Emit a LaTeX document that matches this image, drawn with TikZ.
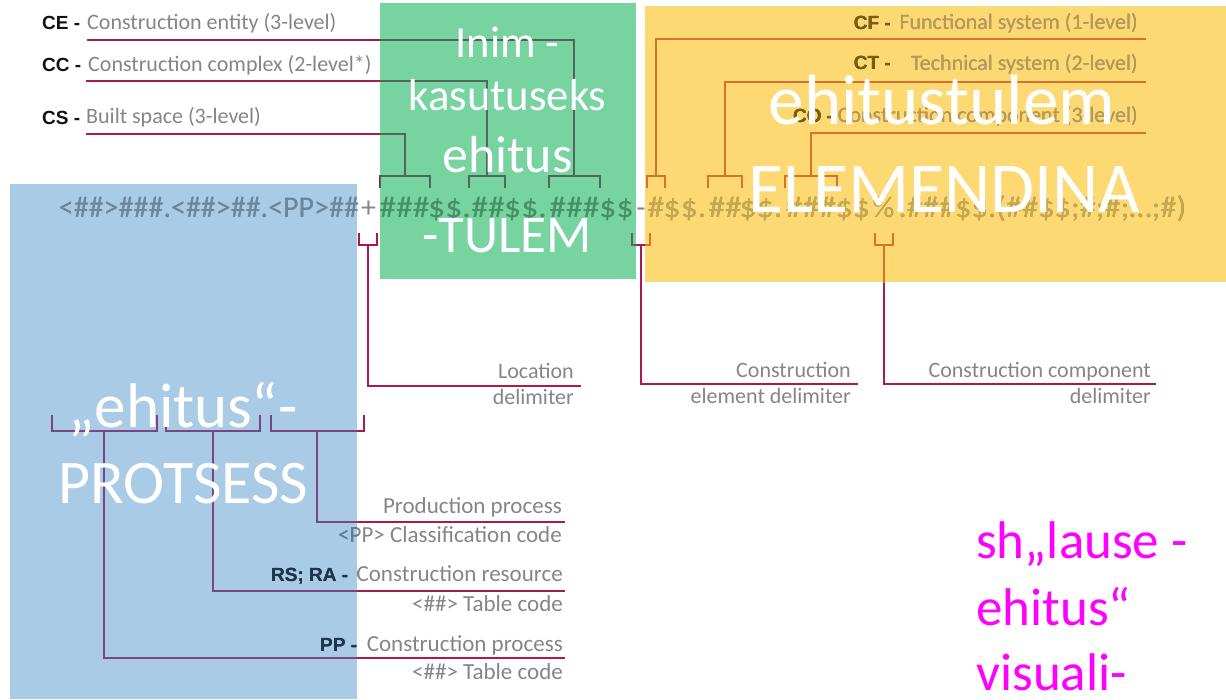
\documentclass[tikz,border=0pt]{standalone}
\usepackage{fontspec}
\setmainfont{Carlito}
\newfontfamily\boldsans{Liberation Sans}
\newcommand\setfs[1]{\fontsize{#1}{#1}\selectfont}
\newcommand\cx[1]{\scalebox{1.12}[1]{#1}}
\definecolor{boxblue}{HTML}{A9CBE6}
\definecolor{boxgreen}{HTML}{77D39F}
\definecolor{boxyellow}{HTML}{FDD974}
\definecolor{crimson}{HTML}{A81A50}
\definecolor{lnblue}{HTML}{7B4584}
\definecolor{lngreen}{HTML}{52675A}
\definecolor{lnyellow}{HTML}{D8722C}
\definecolor{txtgray}{HTML}{858585}
\definecolor{txtblue}{HTML}{5E7A95}
\definecolor{txtyellow}{HTML}{B89A52}
\definecolor{bldblack}{HTML}{111111}
\definecolor{bldblue}{HTML}{1E3551}
\definecolor{bldyellow}{HTML}{7A600C}
\definecolor{codegray}{HTML}{888888}
\definecolor{codeblue}{HTML}{6A87A0}
\definecolor{codegreen}{HTML}{3F9463}
\definecolor{codeyellow}{HTML}{C9A846}
\definecolor{magentatxt}{HTML}{FF00FF}
\colorlet{lncol}{crimson}
\colorlet{txtcol}{txtgray}
\colorlet{bldcol}{bldblack}
\colorlet{codecol}{codegray}
\tikzset{
  lbl/.style={font=\setfs{22}, text=txtcol, inner sep=0pt},
  lbltwo/.style={font=\setfs{23}, text=txtcol, inner sep=0pt},
  bld/.style={font=\boldsans\bfseries\setfs{19}, text=bldcol, inner sep=0pt},
  codetxt/.style={font=\setfs{30}, text=codecol, inner sep=0pt, anchor=base},
  ln/.style={draw=lncol, line width=2.6pt},
  big/.style={text=white, inner sep=0pt, anchor=base},
  mag/.style={text=magentatxt, inner sep=0pt, anchor=base west, font=\setfs{53}},
}
\newcommand\underlayer[4]{%
  \colorlet{lncol}{#1}\colorlet{txtcol}{#2}\colorlet{bldcol}{#3}\colorlet{codecol}{#4}%
  % connectors, top left
  \draw[ln] (ceA) -| (ceM);
  \draw[ln] (ceL) |- (ceM) -| (ceR);
  \draw[ln] (ccA) -| (ccM);
  \draw[ln] (ccL) |- (ccM) -| (ccR);
  \draw[ln] (csA) -| (csM);
  \draw[ln] (csL) |- (csM) -| (csR);
  % connectors, top right
  \draw[ln] (cfA) -| (cfM);
  \draw[ln] (cfL) |- (cfM) -| (cfR);
  \draw[ln] (ctA) -| (ctM);
  \draw[ln] (ctL) |- (ctM) -| (ctR);
  \draw[ln] (coA) -| (coM);
  \draw[ln] (coL) |- (coM) -| (coR);
  % delimiters
  \draw[ln] (locL) |- (locM) -| (locR);
  \draw[ln] (locM) |- (locE);
  \draw[ln] (elL) |- (elM) -| (elR);
  \draw[ln] (elM) |- (elE);
  \draw[ln] (cmL) |- (cmM) -| (cmR);
  \draw[ln] (cmM) |- (cmE);
  % process brackets
  \draw[ln] (pAL) |- (pAM) -| (pAR);
  \draw[ln] (pAM) |- (pAE);
  \draw[ln] (pBL) |- (pBM) -| (pBR);
  \draw[ln] (pBM) |- (pBE);
  \draw[ln] (pCL) |- (pCM) -| (pCR);
  \draw[ln] (pCM) |- (pCE);
  % labels top left
  \node[bld,anchor=base west] (ceK) at (42,29) {CE -};
  \node[lbl,anchor=base west] (ceT) at (87,29) {Construction entity (3-level)};
  \node[bld,anchor=base west] (ccK) at (42,71) {CC -};
  \node[lbl,anchor=base west] (ccT) at (88,71) {Construction complex (2-level*)};
  \node[bld,anchor=base west] (csK) at (42,124) {CS -};
  \node[lbl,anchor=base west] (csT) at (86,123) {Built space (3-level)};
  % labels top right
  \node[bld,anchor=base east] (cfK) at (891,29) {CF -};
  \node[lbl,anchor=base east] (cfT) at (1138,29) {Functional system (1-level)};
  \node[bld,anchor=base east] (ctK) at (891,69) {CT -};
  \node[lbl,anchor=base east] (ctT) at (1138,70) {Technical system (2-level)};
  \node[bld,anchor=base west] (coK) at (793,122) {CO -};
  \node[lbl,anchor=base east] (coT) at (1138,122) {Construction component (3-level)};
  % code string
  \node[codetxt] (c1) at (209,217) {<\#\#>\#\#\#.<\#\#>\#\#.<PP>\#\#};
  \node[codetxt] (c2) at (368.5,217) {+};
  \node[codetxt] (c3) at (404.5,217) {\cx{\#\#\#}};
  \node[codetxt] (c4) at (449.5,217) {\cx{\$\$.}};
  \node[codetxt] (c5) at (488,217) {\cx{\#\#}};
  \node[codetxt] (c6) at (525.5,217) {\cx{\$\$.}};
  \node[codetxt] (c7) at (574.5,217) {\cx{\#\#\#}};
  \node[codetxt] (c8) at (616.5,217) {\cx{\$\$}};
  \node[codetxt] (c9) at (641,217) {-};
  \node[codetxt] (c10) at (656,217) {\cx{\#}};
  \node[codetxt] (c11) at (685,217) {\cx{\$\$.}};
  \node[codetxt] (c12) at (725,217) {\cx{\#\#}};
  \node[codetxt] (c13) at (761,217) {\cx{\$\$.}};
  \node[codetxt] (c14) at (811,217) {\cx{\#\#\#}};
  \node[codetxt] (c15) at (853,217) {\cx{\$\$}};
  \node[codetxt] (c16) at (883.5,217) {\%};
  \node[codetxt] (c17) at (1042.5,217) {\scalebox{1.08}[1]{.\#\#\#\$\$.(\#\#\$\$;\#;\#;…;\#)}};
  % delimiter labels
  \node[lbl,anchor=base east] (locT1) at (574,378) {Location};
  \node[lbl,anchor=base east] (locT2) at (574,404) {delimiter};
  \node[lbl,anchor=base east] (elT1) at (851,377) {Construction};
  \node[lbl,anchor=base east] (elT2) at (851,403) {element delimiter};
  \node[lbl,anchor=base east] (cmT1) at (1151,377) {Construction component};
  \node[lbl,anchor=base east] (cmT2) at (1151,403) {delimiter};
  % process labels
  \node[lbltwo,anchor=base east] (ppT1) at (562,513) {Production process};
  \node[lbltwo,anchor=base east] (ppT2) at (562,542) {<PP> Classification code};
  \node[bld,anchor=base west] (rsK) at (271,581) {RS; RA -};
  \node[lbltwo,anchor=base east] (rsT1) at (563,581) {Construction resource};
  \node[lbltwo,anchor=base east] (rsT2) at (563,611) {<\#\#> Table code};
  \node[bld,anchor=base west] (pK) at (320,651) {PP -};
  \node[lbltwo,anchor=base east] (pT1) at (563,651) {Construction process};
  \node[lbltwo,anchor=base east] (pT2) at (563,679) {<\#\#> Table code};
}
\begin{document}
\begin{tikzpicture}[x=1pt,y=-1pt]
\path[use as bounding box] (0,0) rectangle (1226,699);
\clip (0,0) rectangle (1226,699);
% coordinates
\coordinate (ceA) at (87,40);  \coordinate (ceM) at (574,176); \coordinate (ceL) at (549,188); \coordinate (ceR) at (600,188);
\coordinate (ccA) at (86,81);  \coordinate (ccM) at (487,176); \coordinate (ccL) at (469,188); \coordinate (ccR) at (505,188);
\coordinate (csA) at (86,134); \coordinate (csM) at (405,176); \coordinate (csL) at (380,188); \coordinate (csR) at (430,188);
\coordinate (cfA) at (1146,39); \coordinate (cfM) at (656,176); \coordinate (cfL) at (647,188); \coordinate (cfR) at (665,188);
\coordinate (ctA) at (1146,82); \coordinate (ctM) at (725,176); \coordinate (ctL) at (708,188); \coordinate (ctR) at (742,188);
\coordinate (coA) at (1146,133); \coordinate (coM) at (811,176); \coordinate (coL) at (785,188); \coordinate (coR) at (837,188);
\coordinate (locL) at (359,233); \coordinate (locM) at (368,245); \coordinate (locR) at (377,233); \coordinate (locE) at (581,386);
\coordinate (elL) at (632,233); \coordinate (elM) at (641,245); \coordinate (elR) at (650,233); \coordinate (elE) at (858,384);
\coordinate (cmL) at (875,233); \coordinate (cmM) at (884,245); \coordinate (cmR) at (893,233); \coordinate (cmE) at (1156,384);
\coordinate (pAL) at (52,415); \coordinate (pAM) at (104,431); \coordinate (pAR) at (157,415); \coordinate (pAE) at (565,658);
\coordinate (pBL) at (166,415); \coordinate (pBM) at (213,431); \coordinate (pBR) at (260,415); \coordinate (pBE) at (565,591);
\coordinate (pCL) at (271,415); \coordinate (pCM) at (317,431); \coordinate (pCR) at (364,415); \coordinate (pCE) at (565,522);
% boxes
\fill[boxblue] (10,184) rectangle (357,699);
\fill[boxgreen] (380,3) rectangle (636,279);
\fill[boxyellow] (645,6) rectangle (1226,282);
% under layer, per region
\underlayer{crimson}{txtgray}{bldblack}{codegray}
\begin{scope}
  \clip (10,184) rectangle (357,699);
  \underlayer{lnblue}{txtblue}{bldblue}{codeblue}
\end{scope}
\begin{scope}
  \clip (380,3) rectangle (636,279);
  \underlayer{lngreen}{txtgray}{bldblack}{codegreen}
\end{scope}
\begin{scope}
  \clip (645,6) rectangle (1226,282);
  \underlayer{lnyellow}{txtyellow}{bldyellow}{codeyellow}
\end{scope}
% big overlay texts
\node[big,font=\setfs{44.5}] (g1) at (507.5,57) {Inim -};
\node[big,font=\setfs{44.8}] (g2) at (507.5,110) {kasutuseks};
\node[big,font=\setfs{52}] (g3) at (507.5,172) {ehitus};
\node[big,font=\setfs{53}] (g4) at (507,252) {-TULEM};
\node[big,font=\setfs{71}] (y1) at (942,124) {ehitustulem};
\node[big,font=\setfs{71.5}] (y2) at (944,212) {ELEMENDINA};
\node[big,font=\setfs{63}] (b1) at (183,427) {„ehitus“-};
\node[big,font=\setfs{62}] (b2) at (183.5,503) {PROTSESS};
\node[mag] (m1) at (976,558) {sh„lause -};
\node[mag] (m2) at (976,625) {ehitus“};
\node[mag] (m3) at (976,690) {visuali-};
\end{tikzpicture}
\end{document}
